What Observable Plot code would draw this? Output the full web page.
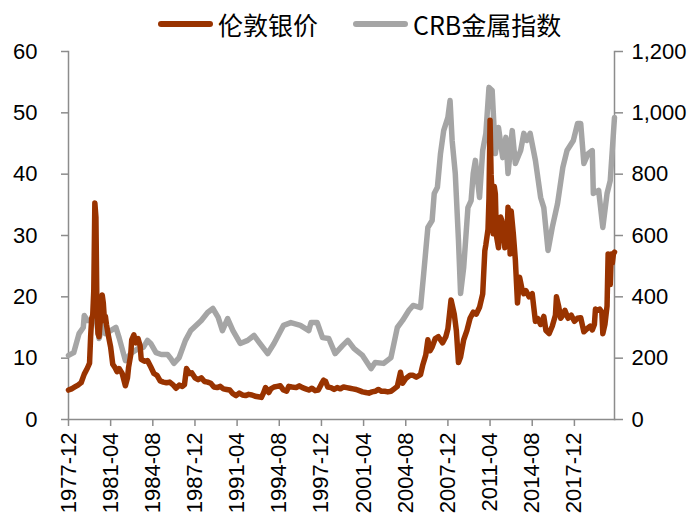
<!DOCTYPE html>
<html>
<head>
<meta charset="utf-8">
<script src="https://cdn.jsdelivr.net/npm/d3@7"></script>
<script src="https://cdn.jsdelivr.net/npm/@observablehq/plot@0.6"></script>
<style>
  html, body { margin: 0; padding: 0; background: #fff; }
  #wrap { width: 699px; height: 526px; position: relative; overflow: hidden; }
  #legend { height: 40px; position: relative; font-family: "Noto Sans CJK SC", "Noto Sans", sans-serif; font-size: 25px; color: #000; }
  .item { position: absolute; top: 4px; height: 40px; display: flex; align-items: center; }
  .sw { width: 55px; height: 6px; border-radius: 3px; margin-right: 5px; }
  #chart svg { display: block; }
</style>
</head>
<body>
<div id="wrap">
  <div id="legend"></div>
  <div id="chart"></div>
</div>
<script>
// ---------- data ----------
const seriesNames = ["伦敦银价", "CRB金属指数"];
const seriesColors = ["#993300", "#A5A5A5"];

const silverDates = ["1977-12","1978-03","1978-06","1978-09","1978-12","1979-03","1979-06","1979-08","1979-09","1979-10","1979-11","1979-12",
"1980-01","1980-02","1980-03","1980-04","1980-05","1980-06","1980-07","1980-08","1980-09","1980-10","1980-11","1980-12",
"1981-02","1981-04","1981-06","1981-08","1981-10","1981-12","1982-03","1982-06","1982-08","1982-09","1982-11","1982-12",
"1983-02","1983-04","1983-06","1983-08","1983-09","1983-12","1984-03","1984-06","1984-09","1984-12","1985-03","1985-06",
"1985-09","1985-12","1986-03","1986-06","1986-09","1986-12","1987-02","1987-04","1987-05","1987-07","1987-09","1987-12",
"1988-03","1988-06","1988-09","1988-12","1989-03","1989-06","1989-09","1989-12","1990-03","1990-06","1990-09","1990-12",
"1991-03","1991-06","1991-09","1991-12","1992-03","1992-06","1992-09","1992-12","1993-03","1993-05","1993-07","1993-10",
"1993-12","1994-03","1994-06","1994-09","1994-12","1995-03","1995-05","1995-08","1995-12","1996-03","1996-06","1996-09",
"1996-12","1997-03","1997-06","1997-09","1997-12","1998-02","1998-04","1998-06","1998-09","1998-12","1999-03","1999-06",
"1999-09","1999-12","2000-03","2000-06","2000-09","2000-12","2001-03","2001-06","2001-09","2001-12","2002-03","2002-06",
"2002-09","2002-12","2003-03","2003-06","2003-09","2003-12","2004-03","2004-05","2004-08","2004-12","2005-03","2005-06",
"2005-10","2005-12","2006-03","2006-05","2006-07","2006-09","2006-12","2007-03","2007-07","2007-10","2007-12","2008-03",
"2008-06","2008-08","2008-10","2008-12","2009-03","2009-06","2009-09","2009-12","2010-03","2010-06","2010-09","2010-11",
"2010-12","2011-02","2011-03","2011-04","2011-05","2011-06","2011-07","2011-08","2011-09","2011-10","2011-12","2012-02",
"2012-04","2012-06","2012-08","2012-09","2012-10","2012-11","2012-12","2013-02","2013-04","2013-06","2013-08","2013-10",
"2013-12","2014-02","2014-05","2014-08","2014-11","2015-01","2015-04","2015-07","2015-09","2015-12","2016-03","2016-06",
"2016-07","2016-09","2016-11","2017-01","2017-03","2017-06","2017-09","2017-12","2018-03","2018-06","2018-09","2018-12",
"2019-03","2019-05","2019-07","2019-08","2019-10","2019-12","2020-02","2020-03","2020-05","2020-07","2020-08","2020-09",
"2020-10","2020-11","2020-12","2021-01","2021-02"];
const silverValues = [4.8,5.0,5.3,5.6,6.0,7.4,8.4,9.2,13.5,16.5,17.0,21.0,
35.3,33.0,18.0,14.0,13.5,15.8,16.0,20.3,19.0,16.5,16.8,15.5,
13.5,11.8,9.0,8.5,7.8,8.3,7.5,5.5,6.8,8.5,10.5,13.0,
13.8,12.5,13.2,12.0,9.8,9.5,9.6,8.6,7.5,7.2,6.3,6.1,
6.0,6.1,5.7,5.1,5.6,5.4,5.7,8.3,8.0,7.5,7.6,6.8,
6.5,6.8,6.2,6.1,5.9,5.3,5.2,5.4,5.0,4.9,4.8,4.2,
3.9,4.3,4.0,3.9,4.1,4.0,3.8,3.7,3.6,4.3,5.2,4.4,
5.0,5.3,5.4,5.5,4.8,4.6,5.4,5.3,5.2,5.5,5.2,5.0,
4.8,5.1,4.7,4.8,5.8,6.4,6.2,5.3,5.2,4.9,5.2,5.0,
5.3,5.2,5.1,5.0,4.9,4.7,4.5,4.4,4.3,4.5,4.6,4.9,
4.6,4.6,4.5,4.6,5.0,5.4,7.7,5.9,6.7,7.2,7.2,6.9,
7.3,8.8,10.5,13.0,11.2,11.8,13.2,13.5,12.5,13.5,14.8,19.5,
17.2,14.5,9.3,10.2,13.0,14.5,16.5,17.5,17.2,18.3,20.5,27.5,
28.5,31.0,36.0,48.8,40.0,36.5,30.3,38.0,36.8,30.0,28.0,33.0,
32.0,28.0,30.0,34.6,33.0,27.0,34.0,30.3,26.0,19.0,23.2,21.5,
20.5,21.0,20.0,20.5,16.0,16.5,15.5,16.8,14.5,14.0,15.2,17.0,
20.0,18.5,16.5,17.0,17.8,16.5,17.0,16.0,16.5,16.6,14.3,14.8,
15.2,14.6,15.5,18.0,17.8,18.0,17.5,14.0,15.5,18.5,27.0,26.0,
22.0,27.0,25.5,27.0,27.3];

const crbDates = ["1977-12","1978-05","1978-10","1979-02","1979-03","1979-06","1979-12","1980-02","1980-05","1980-09","1980-11","1981-04",
"1981-09","1981-12","1982-06","1982-11","1983-06","1983-11","1984-03","1984-06","1984-11","1985-04","1985-10","1986-01",
"1986-04","1986-09","1987-03","1987-08","1987-11","1988-06","1988-12","1989-05","1989-10","1990-02","1990-07","1990-12",
"1991-07","1992-02","1992-08","1993-01","1993-09","1994-03","1994-12","1995-07","1996-04","1996-12","1997-02","1997-08",
"1998-01","1998-07","1999-01","1999-08","2000-01","2000-07","2001-03","2001-11","2002-03","2002-11","2003-06","2003-12",
"2004-05","2004-11","2005-03","2005-10","2006-01","2006-05","2006-09","2006-11","2007-02","2007-05","2007-08","2007-12",
"2008-02","2008-04","2008-07","2008-10","2008-12","2009-03","2009-07","2009-10","2009-12","2010-02","2010-06","2010-09",
"2010-12","2011-03","2011-06","2011-09","2011-12","2012-04","2012-07","2012-09","2013-01","2013-04","2013-09","2013-12",
"2014-03","2014-06","2014-11","2015-04","2015-07","2015-11","2016-03","2016-08","2017-01","2017-05","2017-11","2018-03",
"2018-06","2018-09","2019-01","2019-05","2019-06","2019-11","2020-03","2020-07","2020-10","2021-02"];
const crbValues = [209,218,280,300,339,323,323,333,264,313,280,290,
300,267,192,215,231,235,258,248,218,212,212,199,
183,202,258,290,300,323,349,362,333,290,329,290,
248,258,274,251,215,248,307,316,307,290,316,316,
267,264,215,241,258,231,209,166,186,183,202,300,
323,356,372,365,476,626,649,737,757,867,942,985,
1040,910,802,584,411,496,691,714,802,845,724,877,
933,1083,1073,867,952,854,920,802,942,835,877,933,
910,933,845,724,691,551,626,704,822,877,910,965,
965,835,867,877,737,747,626,737,779,985];

const xDomain = ["1977-12", "2021-02"];
const xTickLabels = ["1977-12","1981-04","1984-08","1987-12","1991-04","1994-08","1997-12","2001-04","2004-08","2007-12","2011-04","2014-08","2017-12"];
const leftTicks = [0, 10, 20, 30, 40, 50, 60];
const rightTicks = [0, 200, 400, 600, 800, 1000, 1200];

// ---------- build ----------
const parse = d3.utcParse("%Y-%m");
const ratio = rightTicks[rightTicks.length - 1] / leftTicks[leftTicks.length - 1];
const silver = silverDates.map((d, i) => ({date: parse(d), v: silverValues[i]}));
const crb = crbDates.map((d, i) => ({date: parse(d), v: crbValues[i] / ratio}));

// legend
const legend = document.getElementById("legend");
const legendLefts = [158, 353];
seriesNames.forEach((name, i) => {
  const it = document.createElement("div");
  it.className = "item";
  it.style.left = legendLefts[i] + "px";
  const sw = document.createElement("div");
  sw.className = "sw";
  sw.style.background = seriesColors[i];
  const tx = document.createElement("span");
  tx.textContent = name;
  it.appendChild(sw); it.appendChild(tx);
  legend.appendChild(it);
});

const axisColor = "#8c8c8c";
const chart = Plot.plot({
  width: 699,
  height: 486,
  marginTop: 11,
  marginBottom: 107,
  marginLeft: 68,
  marginRight: 85,
  style: {fontFamily: "'Liberation Sans', Arial, sans-serif", fontSize: "22px", color: "#000", background: "#fff"},
  x: {type: "utc", domain: xDomain.map(parse)},
  y: {domain: [leftTicks[0], leftTicks[leftTicks.length - 1]]},
  marks: [
    Plot.frame({anchor: "left", stroke: axisColor, strokeWidth: 1.5}),
    Plot.frame({anchor: "right", stroke: axisColor, strokeWidth: 1.5}),
    Plot.frame({anchor: "bottom", stroke: axisColor, strokeWidth: 1.5}),
    Plot.axisY({anchor: "left", ticks: leftTicks, tickSize: 7, tickPadding: 24, stroke: axisColor, strokeWidth: 1.5, fill: "#000", label: null, fontSize: 22}),
    Plot.axisY({anchor: "right", ticks: rightTicks.map(t => t / ratio), tickFormat: d => d3.format(",")(Math.round(d * ratio)), tickSize: 8, tickPadding: 9, stroke: axisColor, strokeWidth: 1.5, fill: "#000", label: null, fontSize: 22}),
    Plot.axisX({anchor: "bottom", ticks: xTickLabels.map(parse), tickFormat: d3.utcFormat("%Y-%m"), tickRotate: -90, tickSize: 7, tickPadding: 6, stroke: axisColor, strokeWidth: 1.5, fill: "#000", label: null, fontSize: 22}),
    Plot.line(crb, {x: "date", y: "v", stroke: seriesColors[1], strokeWidth: 5.5, strokeLinejoin: "round", strokeLinecap: "round"}),
    Plot.line(silver, {x: "date", y: "v", stroke: seriesColors[0], strokeWidth: 5.5, strokeLinejoin: "round", strokeLinecap: "round"})
  ]
});
document.getElementById("chart").appendChild(chart);
</script>
</body>
</html>
